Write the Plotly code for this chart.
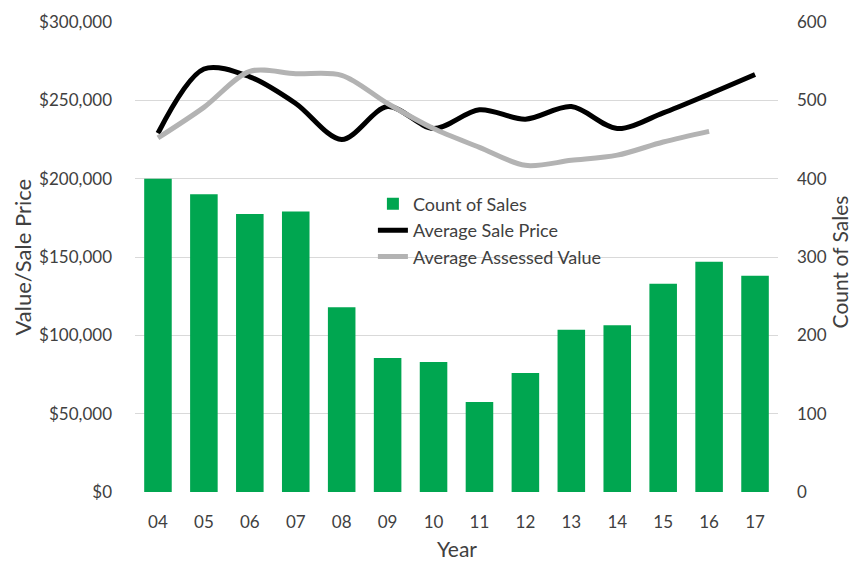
import plotly.graph_objects as go

years = ["04", "05", "06", "07", "08", "09", "10", "11", "12", "13", "14", "15", "16", "17"]
count_of_sales = [400, 380, 355, 358, 236, 171, 166, 115, 152, 207, 213, 266, 294, 276]
avg_sale_price = [229000, 270000, 265000, 248000, 225000, 246000, 232000, 244000, 238000, 246000, 232000, 242000, 254000, 266500]
avg_assessed_value = [226000, 245500, 268500, 267000, 266000, 248000, 232000, 220000, 208500, 211700, 215000, 223400, 230200, None]

FONT = "Lato, 'Open Sans', sans-serif"
TXT = "#404040"

fig = go.Figure()
fig.add_trace(go.Bar(
    x=years, y=count_of_sales, name="Count of Sales",
    marker=dict(color="#00A650", line=dict(width=0)),
    yaxis="y",
))
fig.add_trace(go.Scatter(
    x=years, y=avg_sale_price, name="Average Sale Price",
    mode="lines", line=dict(color="#000000", width=5, shape="spline", smoothing=0.9),
    yaxis="y2",
))
fig.add_trace(go.Scatter(
    x=years, y=avg_assessed_value, name="Average Assessed Value",
    mode="lines", line=dict(color="#B3B3B3", width=5, shape="spline", smoothing=0.9),
    yaxis="y2", connectgaps=False,
))

fig.update_layout(
    width=852, height=561,
    margin=dict(l=135, r=74, t=22, b=69),
    paper_bgcolor="white", plot_bgcolor="white",
    font=dict(family=FONT, size=17, color=TXT),
    bargap=0.40,
    showlegend=True,
    legend=dict(
        x=0.370, y=0.652, xanchor="left", yanchor="top",
        bgcolor="rgba(0,0,0,0)", font=dict(size=18, color=TXT),
        traceorder="normal", itemwidth=30, tracegroupgap=0,
    ),
    xaxis=dict(
        type="category", showgrid=False, showline=False, zeroline=False,
        ticks="", ticklabelstandoff=18, automargin=False,
        tickfont=dict(size=17, color=TXT),
    ),
    yaxis=dict(
        side="right", range=[0, 600], dtick=100,
        showgrid=True, gridcolor="#D9D9D9", gridwidth=1,
        zeroline=False, showline=False, ticks="",
        ticklabelstandoff=18, automargin=False,
        tickfont=dict(size=17, color=TXT),
    ),
    yaxis2=dict(
        side="left", overlaying="y", range=[0, 300000], dtick=50000,
        tickprefix="$", tickformat=",d",
        showgrid=False, zeroline=False, showline=False, ticks="",
        ticklabelstandoff=22, automargin=False,
        tickfont=dict(size=17, color=TXT),
    ),
    annotations=[
        dict(text="Year", xref="paper", yref="paper", x=0.5, y=-0.12,
             xanchor="center", yanchor="middle", showarrow=False,
             font=dict(size=21, color=TXT)),
        dict(text="Value/Sale Price", xref="paper", yref="paper", x=-0.175, y=0.5,
             xanchor="center", yanchor="middle", textangle=-90, showarrow=False,
             font=dict(size=22, color=TXT)),
        dict(text="Count of Sales", xref="paper", yref="paper", x=1.096, y=0.49,
             xanchor="center", yanchor="middle", textangle=-90, showarrow=False,
             font=dict(size=21, color=TXT)),
    ],
)

fig.write_html(
    "out.html",
    config={"displayModeBar": False},
    post_script="document.body.style.margin='0';document.body.style.overflow='hidden';",
)
